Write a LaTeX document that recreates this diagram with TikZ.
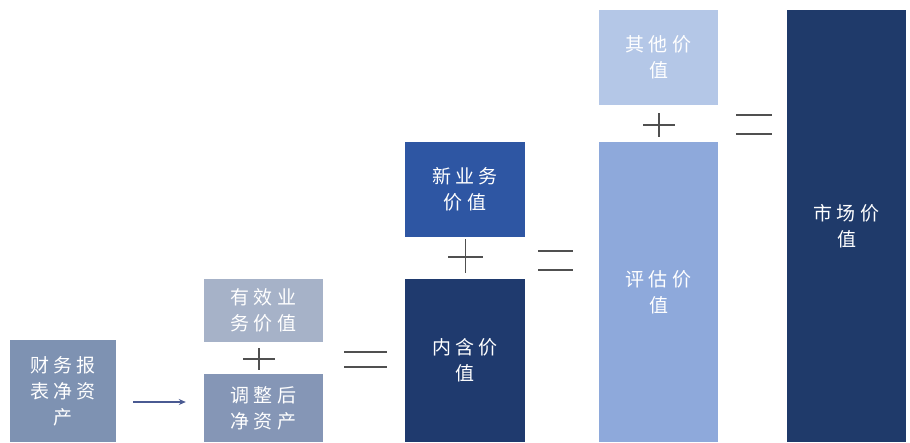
\documentclass[tikz,border=0pt]{standalone}
\usepackage{fontspec}
\newfontfamily\cjk[LetterSpace=22]{Noto Sans CJK SC}
\usetikzlibrary{arrows.meta,calc}
\definecolor{cA}{HTML}{7E92B2}
\definecolor{cB}{HTML}{A6B2C8}
\definecolor{cC}{HTML}{8596B6}
\definecolor{cD}{HTML}{2E56A3}
\definecolor{cE}{HTML}{1F3A6E}
\definecolor{cF}{HTML}{B4C7E7}
\definecolor{cG}{HTML}{8EA9DB}
\definecolor{cH}{HTML}{1F3A6A}
\definecolor{sym}{HTML}{505050}
\definecolor{arrc}{HTML}{4A5A92}
\tikzset{
  box/.style={rectangle, inner sep=0pt, draw=none, text=white, align=center,
    font=\cjk\fontsize{19}{26}\selectfont},
  symline/.style={draw=sym, line width=1.8pt},
  arr/.style={draw=arrc, line width=1.4pt, -{Stealth[length=7pt,width=6pt]}}
}
\begin{document}
\begin{tikzpicture}[x=1pt,y=-1pt]
\useasboundingbox (0,0) rectangle (910,442);
% boxes
\node[box, fill=cA, minimum width=106, minimum height=102] (b1) at (63,391) {财务报\\表净资\\产};
\node[box, fill=cB, minimum width=119, minimum height=63] (b2) at (263.5,310.5) {有效业\\务价值};
\node[box, fill=cC, minimum width=119, minimum height=68] (b3) at (263.5,408) {调整后\\净资产};
\node[box, fill=cD, minimum width=120, minimum height=95] (b4) at (465,189.5) {新业务\\价值};
\node[box, fill=cE, minimum width=120, minimum height=163] (b5) at (465,360.5) {内含价\\值};
\node[box, fill=cF, minimum width=119, minimum height=95] (b6) at (658.5,57.5) {其他价\\值};
\node[box, fill=cG, minimum width=119, minimum height=300] (b7) at (658.5,292) {评估价\\值};
\node[box, fill=cH, minimum width=119, minimum height=432] (b8) at (846.5,226) {市场价\\值};
% arrow
\draw[arr] ($(b1.east)+(17,11)$) -- ($(b3.west)+(-18,-6)$);
% plus signs
\draw[symline] (243,359) -- (275,359) (259,348) -- (259,370);
\draw[symline] (448,257) -- (483,257) (465.5,239) -- (465.5,273);
\draw[symline] (643,125) -- (675,125) (659,113) -- (659,137);
% equals signs
\draw[symline] (344,352) -- (387,352) (344,367) -- (387,367);
\draw[symline] (538,251) -- (573,251) (538,270) -- (573,270);
\draw[symline] (736,115) -- (772,115) (736,134) -- (772,134);
\end{tikzpicture}
\end{document}
